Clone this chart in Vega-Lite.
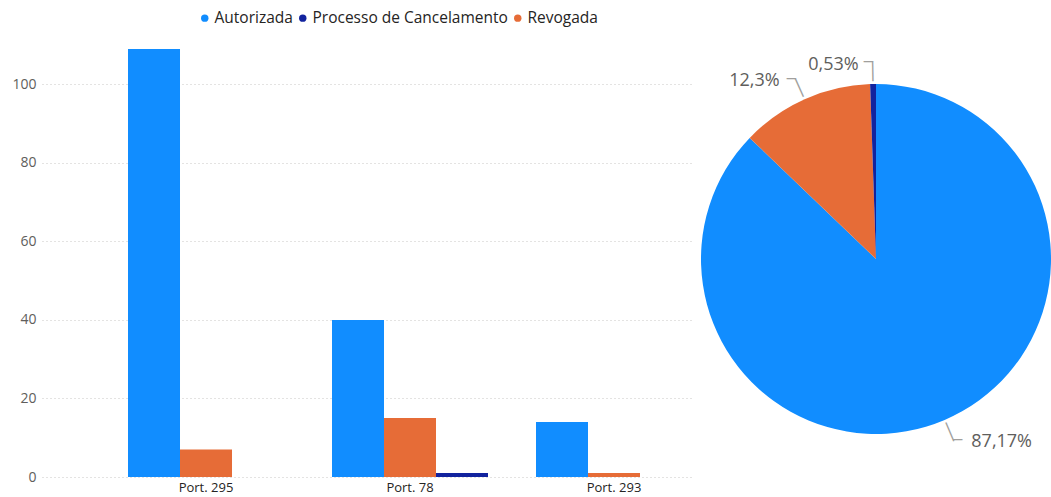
{
  "$schema": "https://vega.github.io/schema/vega-lite/v6.json",
  "padding": {"left": 11, "top": 10, "right": 0, "bottom": 0},
  "background": "white",
  "config": {
    "font": "Open Sans",
    "view": {"stroke": null},
    "concat": {"spacing": 9}
  },
  "datasets": {
    "bars": [
      {"port": "Port. 295", "status": "Autorizada", "qtd": 109},
      {"port": "Port. 295", "status": "Revogada", "qtd": 7},
      {"port": "Port. 295", "status": "Processo de Cancelamento", "qtd": 0},
      {"port": "Port. 78", "status": "Autorizada", "qtd": 40},
      {"port": "Port. 78", "status": "Revogada", "qtd": 15},
      {"port": "Port. 78", "status": "Processo de Cancelamento", "qtd": 1},
      {"port": "Port. 293", "status": "Autorizada", "qtd": 14},
      {"port": "Port. 293", "status": "Revogada", "qtd": 1},
      {"port": "Port. 293", "status": "Processo de Cancelamento", "qtd": 0}
    ],
    "pie": [
      {"status": "Autorizada", "total": 163, "label": "87,17%"},
      {"status": "Revogada", "total": 23, "label": "12,3%"},
      {"status": "Processo de Cancelamento", "total": 1, "label": "0,53%"}
    ]
  },
  "resolve": {"legend": {"color": "independent"}},
  "hconcat": [
    {
      "width": 650,
      "height": 432,
      "data": {"name": "bars"},
      "mark": {"type": "bar"},
      "encoding": {
        "x": {
          "field": "port", "type": "nominal",
          "sort": ["Port. 295", "Port. 78", "Port. 293"],
          "scale": {"paddingInner": 0.2353, "paddingOuter": 0.2108, "align": 1},
          "axis": {"title": null, "labelAngle": 0, "domain": false, "ticks": false, "labelPadding": 4, "labelFontSize": 13, "labelColor": "#252423"}
        },
        "xOffset": {
          "field": "status", "type": "nominal",
          "sort": ["Autorizada", "Revogada", "Processo de Cancelamento"]
        },
        "y": {
          "field": "qtd", "type": "quantitative",
          "scale": {"domain": [0, 110], "nice": false},
          "axis": {"title": null, "values": [0, 20, 40, 60, 80, 100], "domain": false, "ticks": false, "labelPadding": 6, "labelFontSize": 14, "labelColor": "#605E5C", "gridColor": "#C8C6C4", "gridDash": [1, 3], "gridWidth": 1}
        },
        "color": {
          "field": "status", "type": "nominal",
          "scale": {"domain": ["Autorizada", "Processo de Cancelamento", "Revogada"], "range": ["#118DFF", "#12239E", "#E66C37"]},
          "legend": {"title": null, "orient": "none", "direction": "horizontal", "legendX": 155, "legendY": -35, "symbolType": "circle", "symbolSize": 55, "labelFontSize": 15.5, "labelColor": "#252423", "labelLimit": 400, "columnPadding": 2, "symbolOffset": 0, "labelOffset": 2}
        }
      }
    },
    {
      "width": 350,
      "height": 428,
      "data": {"name": "pie"},
      "encoding": {
        "theta": {"field": "total", "type": "quantitative", "stack": true},
        "order": {"field": "total", "type": "quantitative", "sort": "descending"},
        "color": {"field": "status", "type": "nominal", "legend": null}
      },
      "layer": [
        {"mark": {"type": "arc"}},
        {
          "mark": {"type": "text", "radius": 187, "angle": 157, "align": "center", "baseline": "middle", "font": "DejaVu Sans", "fontSize": 17},
          "encoding": {"color": {"value": "#A19F9D"}, "text": {"condition": {"test": "datum.status === 'Autorizada'", "value": "│"}, "value": ""}}
        },
        {
          "mark": {"type": "text", "radius": 187, "angle": 336, "align": "center", "baseline": "middle", "font": "DejaVu Sans", "fontSize": 17},
          "encoding": {"color": {"value": "#A19F9D"}, "text": {"condition": {"test": "datum.status === 'Revogada'", "value": "│"}, "value": ""}}
        },
        {
          "mark": {"type": "text", "radius": 187, "angle": 359, "align": "center", "baseline": "middle", "font": "DejaVu Sans", "fontSize": 17},
          "encoding": {"color": {"value": "#A19F9D"}, "text": {"condition": {"test": "datum.status === 'Processo de Cancelamento'", "value": "│"}, "value": ""}}
        },
        {
          "mark": {"type": "text", "radius": 197, "align": "left", "baseline": "middle", "font": "DejaVu Sans", "fontSize": 15},
          "encoding": {"color": {"value": "#A19F9D"}, "text": {"condition": {"test": "datum.status === 'Autorizada'", "value": "─"}, "value": ""}}
        },
        {
          "mark": {"type": "text", "radius": 197, "align": "right", "baseline": "middle", "font": "DejaVu Sans", "fontSize": 15},
          "encoding": {"color": {"value": "#A19F9D"}, "text": {"condition": {"test": "datum.status !== 'Autorizada'", "value": "─"}, "value": ""}}
        },
        {
          "mark": {"type": "text", "radius": 197, "align": "left", "baseline": "middle", "dx": 18, "dy": 2, "fontSize": 18},
          "encoding": {"color": {"value": "#605E5C"}, "text": {"condition": {"test": "datum.status === 'Autorizada'", "field": "label"}, "value": ""}}
        },
        {
          "mark": {"type": "text", "radius": 197, "align": "right", "baseline": "middle", "dx": -16, "dy": 2, "fontSize": 18},
          "encoding": {"color": {"value": "#605E5C"}, "text": {"condition": {"test": "datum.status === 'Revogada'", "field": "label"}, "value": ""}}
        },
        {
          "mark": {"type": "text", "radius": 197, "align": "right", "baseline": "middle", "dx": -14, "dy": 3, "fontSize": 18},
          "encoding": {"color": {"value": "#605E5C"}, "text": {"condition": {"test": "datum.status === 'Processo de Cancelamento'", "field": "label"}, "value": ""}}
        }
      ]
    }
  ]
}
